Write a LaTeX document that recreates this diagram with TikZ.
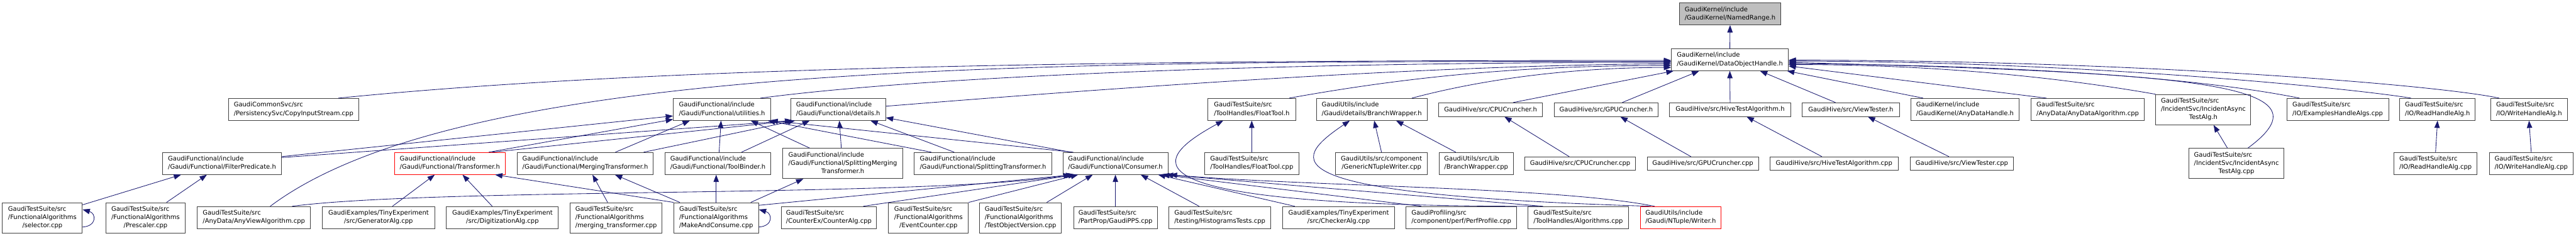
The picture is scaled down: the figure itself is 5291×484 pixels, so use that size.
\documentclass[tikz,border=0pt]{standalone}
\usepackage{fontspec}
\setmainfont{DejaVu Sans}
\usepackage{tikz}
\usetikzlibrary{arrows.meta,calc}
\definecolor{edgeBlue}{HTML}{191970}
\definecolor{boxGray}{HTML}{404040}
\definecolor{topGray}{HTML}{BFBFBF}
\definecolor{cutRed}{HTML}{FF0000}
\newcommand{\twolbl}[2]{\begin{tabular}{@{}l@{}}#1\\\multicolumn{1}{@{}c@{}}{#2}\end{tabular}}
\newcommand{\threelbl}[3]{\begin{tabular}{@{}l@{}}#1\\#2\\\multicolumn{1}{@{}c@{}}{#3}\end{tabular}}

\begin{document}
\begin{tikzpicture}[x=1pt, y=-1pt, font=\fontsize{12.9}{17}\selectfont,
  incbox/.style={draw=boxGray, line width=1.2pt, inner sep=0pt, minimum height=45pt},
  flatbox/.style={incbox, minimum height=28pt},
  tallbox/.style={incbox, minimum height=62pt},
  rootbox/.style={incbox, fill=topGray},
  cutbox/.style={incbox, draw=cutRed},
  dep/.style={draw=edgeBlue, line width=1.1pt, -{Triangle[length=15pt,width=11pt]}}]
\useasboundingbox (0,0) rectangle (5291,484);
% ---------- target and its direct includer ----------
\node[rootbox, minimum width=209pt] (named) at (3553.5,28.5) {\twolbl{GaudiKernel/include}{/GaudiKernel/NamedRange.h}};
\node[incbox, minimum width=240pt] (doh) at (3553,122.5) {\twolbl{GaudiKernel/include}{/GaudiKernel/DataObjectHandle.h}};
% ---------- second row ----------
\node[incbox, minimum width=268pt] (cis) at (603,224.5) {\twolbl{GaudiCommonSvc/src}{/PersistencySvc/CopyInputStream.cpp}};
\node[incbox, minimum width=200pt] (util) at (1483,224.5) {\twolbl{GaudiFunctional/include}{/Gaudi/Functional/utilities.h}};
\node[incbox, minimum width=195pt] (details) at (1721.5,224.5) {\twolbl{GaudiFunctional/include}{/Gaudi/Functional/details.h}};
\node[incbox, minimum width=180pt] (floath) at (2571,224.5) {\twolbl{GaudiTestSuite/src}{/ToolHandles/FloatTool.h}};
\node[incbox, minimum width=227pt] (brh) at (2817.5,224.5) {\twolbl{GaudiUtils/include}{/Gaudi/details/BranchWrapper.h}};
\node[flatbox, minimum width=213pt] (cpuh) at (3061.5,225) {GaudiHive/src/CPUCruncher.h};
\node[flatbox, minimum width=214pt] (gpuh) at (3299,225) {GaudiHive/src/GPUCruncher.h};
\node[flatbox, minimum width=249pt] (hiveh) at (3553.5,225) {GaudiHive/src/HiveTestAlgorithm.h};
\node[flatbox, minimum width=199pt] (viewh) at (3801.5,225) {GaudiHive/src/ViewTester.h};
\node[incbox, minimum width=222pt] (adh) at (4036,224.5) {\twolbl{GaudiKernel/include}{/GaudiKernel/AnyDataHandle.h}};
\node[incbox, minimum width=232pt] (ada) at (4288,224.5) {\twolbl{GaudiTestSuite/src}{/AnyData/AnyDataAlgorithm.cpp}};
\node[tallbox, minimum width=195pt] (iah) at (4525.5,225) {\threelbl{GaudiTestSuite/src}{/IncidentSvc/IncidentAsync}{TestAlg.h}};
\node[incbox, minimum width=209pt] (eha) at (4801.5,224.5) {\twolbl{GaudiTestSuite/src}{/IO/ExamplesHandleAlgs.cpp}};
\node[incbox, minimum width=155pt] (rhh) at (5006.5,224.5) {\twolbl{GaudiTestSuite/src}{/IO/ReadHandleAlg.h}};
\node[incbox, minimum width=157pt] (whh) at (5194.5,224.5) {\twolbl{GaudiTestSuite/src}{/IO/WriteHandleAlg.h}};
% ---------- third row ----------
\node[incbox, minimum width=244pt] (filt) at (456,335.5) {\twolbl{GaudiFunctional/include}{/Gaudi/Functional/FilterPredicate.h}};
\node[cutbox, minimum width=228pt] (trans) at (924,335.5) {\twolbl{GaudiFunctional/include}{/Gaudi/Functional/Transformer.h}};
\node[incbox, minimum width=280pt] (merg) at (1202,335.5) {\twolbl{GaudiFunctional/include}{/Gaudi/Functional/MergingTransformer.h}};
\node[incbox, minimum width=217pt] (tbind) at (1474.5,335.5) {\twolbl{GaudiFunctional/include}{/Gaudi/Functional/ToolBinder.h}};
\node[tallbox, minimum width=246pt] (smt) at (1731,335.5) {\threelbl{GaudiFunctional/include}{/Gaudi/Functional/SplittingMerging}{Transformer.h}};
\node[incbox, minimum width=282pt] (splt) at (2019,335.5) {\twolbl{GaudiFunctional/include}{/Gaudi/Functional/SplittingTransformer.h}};
\node[incbox, minimum width=216pt] (cons) at (2291,335.5) {\twolbl{GaudiFunctional/include}{/Gaudi/Functional/Consumer.h}};
\node[incbox, minimum width=194pt] (floatc) at (2571,335.5) {\twolbl{GaudiTestSuite/src}{/ToolHandles/FloatTool.cpp}};
\node[incbox, minimum width=189pt] (gntw) at (2837.5,335.5) {\twolbl{GaudiUtils/src/component}{/GenericNTupleWriter.cpp}};
\node[incbox, minimum width=152pt] (brc) at (3032,335.5) {\twolbl{GaudiUtils/src/Lib}{/BranchWrapper.cpp}};
\node[flatbox, minimum width=227pt] (cpuc) at (3245.5,336) {GaudiHive/src/CPUCruncher.cpp};
\node[flatbox, minimum width=229pt] (gpuc) at (3497.5,336) {GaudiHive/src/GPUCruncher.cpp};
\node[flatbox, minimum width=264pt] (hivec) at (3767,336) {GaudiHive/src/HiveTestAlgorithm.cpp};
\node[flatbox, minimum width=213pt] (viewc) at (4029.5,336) {GaudiHive/src/ViewTester.cpp};
\node[tallbox, minimum width=195pt] (iac) at (4593.5,335.5) {\threelbl{GaudiTestSuite/src}{/IncidentSvc/IncidentAsync}{TestAlg.cpp}};
\node[incbox, minimum width=171pt] (rhc) at (5002.5,335.5) {\twolbl{GaudiTestSuite/src}{/IO/ReadHandleAlg.cpp}};
\node[incbox, minimum width=172pt] (whc) at (5199,335.5) {\twolbl{GaudiTestSuite/src}{/IO/WriteHandleAlg.cpp}};
% ---------- bottom row ----------
\node[tallbox, minimum width=164pt] (sel) at (87,447) {\threelbl{GaudiTestSuite/src}{/FunctionalAlgorithms}{/selector.cpp}};
\node[tallbox, minimum width=164pt] (presc) at (299,447) {\threelbl{GaudiTestSuite/src}{/FunctionalAlgorithms}{/Prescaler.cpp}};
\node[incbox, minimum width=233pt] (anyv) at (521.5,446.5) {\twolbl{GaudiTestSuite/src}{/AnyData/AnyViewAlgorithm.cpp}};
\node[incbox, minimum width=231pt] (gen) at (777.5,446.5) {\twolbl{GaudiExamples/TinyExperiment}{/src/GeneratorAlg.cpp}};
\node[incbox, minimum width=230pt] (digi) at (1032,446.5) {\twolbl{GaudiExamples/TinyExperiment}{/src/DigitizationAlg.cpp}};
\node[tallbox, minimum width=189pt] (mtc) at (1265.5,447) {\threelbl{GaudiTestSuite/src}{/FunctionalAlgorithms}{/merging\_transformer.cpp}};
\node[tallbox, minimum width=174pt] (mac) at (1471,447) {\threelbl{GaudiTestSuite/src}{/FunctionalAlgorithms}{/MakeAndConsume.cpp}};
\node[incbox, minimum width=195pt] (cnt) at (1702.5,446.5) {\twolbl{GaudiTestSuite/src}{/CounterEx/CounterAlg.cpp}};
\node[tallbox, minimum width=164pt] (evc) at (1907,447) {\threelbl{GaudiTestSuite/src}{/FunctionalAlgorithms}{/EventCounter.cpp}};
\node[tallbox, minimum width=168pt] (tov) at (2096,447) {\threelbl{GaudiTestSuite/src}{/FunctionalAlgorithms}{/TestObjectVersion.cpp}};
\node[incbox, minimum width=172pt] (pps) at (2291,446.5) {\twolbl{GaudiTestSuite/src}{/PartProp/GaudiPPS.cpp}};
\node[incbox, minimum width=209pt] (hist) at (2505.5,446.5) {\twolbl{GaudiTestSuite/src}{/testing/HistogramsTests.cpp}};
\node[incbox, minimum width=231pt] (chk) at (2749.5,446.5) {\twolbl{GaudiExamples/TinyExperiment}{/src/CheckerAlg.cpp}};
\node[incbox, minimum width=227pt] (perf) at (3001.5,446.5) {\twolbl{GaudiProfiling/src}{/component/perf/PerfProfile.cpp}};
\node[incbox, minimum width=207pt] (algs) at (3241.5,446.5) {\twolbl{GaudiTestSuite/src}{/ToolHandles/Algorithms.cpp}};
\node[cutbox, minimum width=166pt] (ntw) at (3452,446.5) {\twolbl{GaudiUtils/include}{/Gaudi/NTuple/Writer.h}};
% ---------- into DataObjectHandle.h ----------
\draw[dep] (doh.north) -- (named.south);
\draw[dep] ($(cis.north)+(92,0)$) .. controls +(700,-70) and +(-1000,0) .. ($(doh.west)+(0,1.5)$);
\draw[dep] ($(anyv.north)+(33.5,0)$) .. controls +(400,-300) and +(-1300,0) .. ($(doh.west)+(0,3.5)$);
\draw[dep] ($(util.north)+(79,0)$) .. controls +(300,-40) and +(-900,0) .. ($(doh.west)+(0,5.5)$);
\draw[dep] ($(details.east)+(0,-6.5)$) .. controls +(500,-40) and +(-500,3) .. ($(doh.west)+(0,8.5)$);
\draw[dep] ($(floath.north)+(77,0)$) .. controls +(250,-45) and +(-300,0) .. ($(doh.west)+(0,12)$);
\draw[dep] ($(brh.north)+(82.5,0)$) .. controls +(150,-40) and +(-200,0) .. ($(doh.west)+(0,16)$);
\draw[dep] ($(cpuh.north)+(46.5,0)$) -- ($(doh.south west)+(5,0)$);
\draw[dep] ($(gpuh.north)+(33,0)$) -- ($(doh.south)+(-63,0)$);
\draw[dep] (hiveh.north) -- (doh.south);
\draw[dep] ($(viewh.north)+(-31.5,0)$) -- ($(doh.south)+(62,0)$);
\draw[dep] ($(adh.north)+(-86,0)$) -- ($(doh.south east)+(-3,0)$);
\draw[dep] ($(ada.north)+(-85,0)$) -- ($(doh.east)+(0,13)$);
\draw[dep] (iah.north west) .. controls +(-200,-35) and +(300,0) .. ($(doh.east)+(0,10)$);
\draw[dep] ($(iac.north)+(23.5,0)$) .. controls +(183,-134) and +(827,22) .. ($(doh.east)+(0,5.5)$);
\draw[dep] ($(eha.north)+(-78.5,0)$) .. controls +(-150,-30) and +(600,5) .. ($(doh.east)+(0,8)$);
\draw[dep] ($(rhh.north)+(-54.5,0)$) .. controls +(-120,-20) and +(600,0) .. ($(doh.east)+(0,3)$);
\draw[dep] ($(whh.north)+(-61.5,0)$) .. controls +(-130,-28) and +(700,0) .. ($(doh.east)+(0,1)$);
% ---------- third row into second row ----------
\draw[dep] (floatc.north) -- (floath.south);
\draw[dep] (gntw.north) -- ($(brh.south)+(5,0)$);
\draw[dep] ($(brc.north)+(-42,0)$) -- ($(brh.south)+(50,0)$);
\draw[dep] ($(cpuc.north)+(-22.5,0)$) -- ($(cpuh.south)+(28.5,0)$);
\draw[dep] ($(gpuc.north)+(-24.5,0)$) -- ($(gpuh.south)+(29,0)$);
\draw[dep] ($(hivec.north)+(-25,0)$) -- ($(hiveh.south)+(34,0)$);
\draw[dep] ($(viewc.north)+(-26.5,0)$) -- ($(viewh.south)+(35,0)$);
\draw[dep] ($(iac.north)+(-18.5,0)$) -- ($(iah.south)+(21,0)$);
\draw[dep] (rhc.north) -- (rhh.south);
\draw[dep] (whc.north) -- (whh.south);
% functional headers
\draw[dep] ($(filt.north east)+(0,9)$) -- ($(util.west)+(0,13.5)$);
\draw[dep] ($(filt.north east)+(0,11)$) -- ($(details.south)+(-94.5,0)$);
\draw[dep] ($(trans.north)+(80,0)$) -- ($(util.west)+(0,20.5)$);
\draw[dep] ($(trans.north)+(86,0)$) -- ($(details.south)+(-91.5,0)$);
\draw[dep] ($(merg.north)+(62,0)$) -- ($(util.south)+(-66,0)$);
\draw[dep] ($(merg.north)+(120,0)$) -- ($(details.south)+(-88.5,0)$);
\draw[dep] ($(tbind.north)+(2.5,0)$) -- ($(util.south)+(-2,0)$);
\draw[dep] ($(tbind.north)+(48.5,0)$) -- ($(details.south)+(-58.5,0)$);
\draw[dep] ($(smt.north)+(-68,0)$) -- ($(util.south)+(59,0)$);
\draw[dep] ($(smt.north)+(-3,0)$) -- ($(details.south)+(2.5,0)$);
\draw[dep] ($(splt.north)+(-106,0)$) -- ($(util.south)+(94,0)$);
\draw[dep] ($(splt.north)+(-59,0)$) -- ($(details.south)+(66.5,0)$);
\draw[dep] ($(cons.north west)+(22,0)$) -- ($(util.south east)+(-1,0)$);
\draw[dep] ($(cons.north west)+(17,0)$) -- ($(details.east)+(0,17)$);
% ---------- bottom row ----------
\draw[dep] ($(sel.north east)+(0,5)$) -- ($(filt.south)+(-84,0)$);
\draw[dep] ($(presc.north)+(43,0)$) -- ($(filt.south)+(-31,0)$);
\draw[dep] ($(sel.east)+(0,19)$) .. controls +(30,-2) and +(28,8) .. ($(sel.east)+(0,-17)$);
\draw[dep] ($(anyv.north)+(78.5,0)$) .. controls +(300,-39) and +(-300,47) .. ($(cons.south west)+(17,0)$);
\draw[dep] ($(gen.north)+(28.5,0)$) -- ($(trans.south)+(-31,0)$);
\draw[dep] ($(digi.north)+(-21,0)$) -- ($(trans.south)+(26,0)$);
\draw[dep] (mac.north west) -- ($(trans.south)+(93,0)$);
\draw[dep] ($(mtc.north)+(-17.5,0)$) -- ($(merg.south)+(15,0)$);
\draw[dep] ($(mac.north west)+(13,0)$) -- ($(merg.south)+(61,0)$);
\draw[dep] (mac.north) -- ($(tbind.south)+(-3.5,0)$);
\draw[dep] ($(mac.north)+(71,0)$) -- ($(smt.south)+(-81,0)$);
\draw[dep] ($(mac.north east)+(0,6)$) -- ($(cons.south west)+(22,0)$);
\draw[dep] ($(mac.east)+(0,19)$) .. controls +(30,-2) and +(28,8) .. ($(mac.east)+(0,-17)$);
\draw[dep] ($(cnt.north)+(70.5,0)$) -- ($(cons.south west)+(27,0)$);
\draw[dep] (evc.north east) -- ($(cons.south west)+(32,0)$);
\draw[dep] ($(tov.north)+(54,0)$) -- ($(cons.south west)+(62,0)$);
\draw[dep] (pps.north) -- (cons.south);
\draw[dep] ($(hist.north)+(-42.5,0)$) -- ($(cons.south)+(52,0)$);
\draw[dep] ($(chk.north west)+(26,0)$) -- ($(cons.south east)+(-21,0)$);
\draw[dep] ($(perf.north west)+(32,0)$) -- ($(cons.south east)+(-13,0)$);
\draw[dep] ($(algs.north west)+(32,0)$) -- ($(cons.south east)+(-5,0)$);
\draw[dep] ($(ntw.north west)+(30,0)$) .. controls +(-200,-40) and +(300,25) .. ($(cons.south east)+(3,0)$);
\draw[dep] ($(algs.north west)+(22,0)$) .. controls +(-910,1) and +(-133,73) .. ($(floath.south west)+(32,0)$);
\draw[dep] ($(ntw.north west)+(22,0)$) .. controls +(-791,-24) and +(-123,83) .. ($(brh.south west)+(69,0)$);
\end{tikzpicture}
\end{document}
